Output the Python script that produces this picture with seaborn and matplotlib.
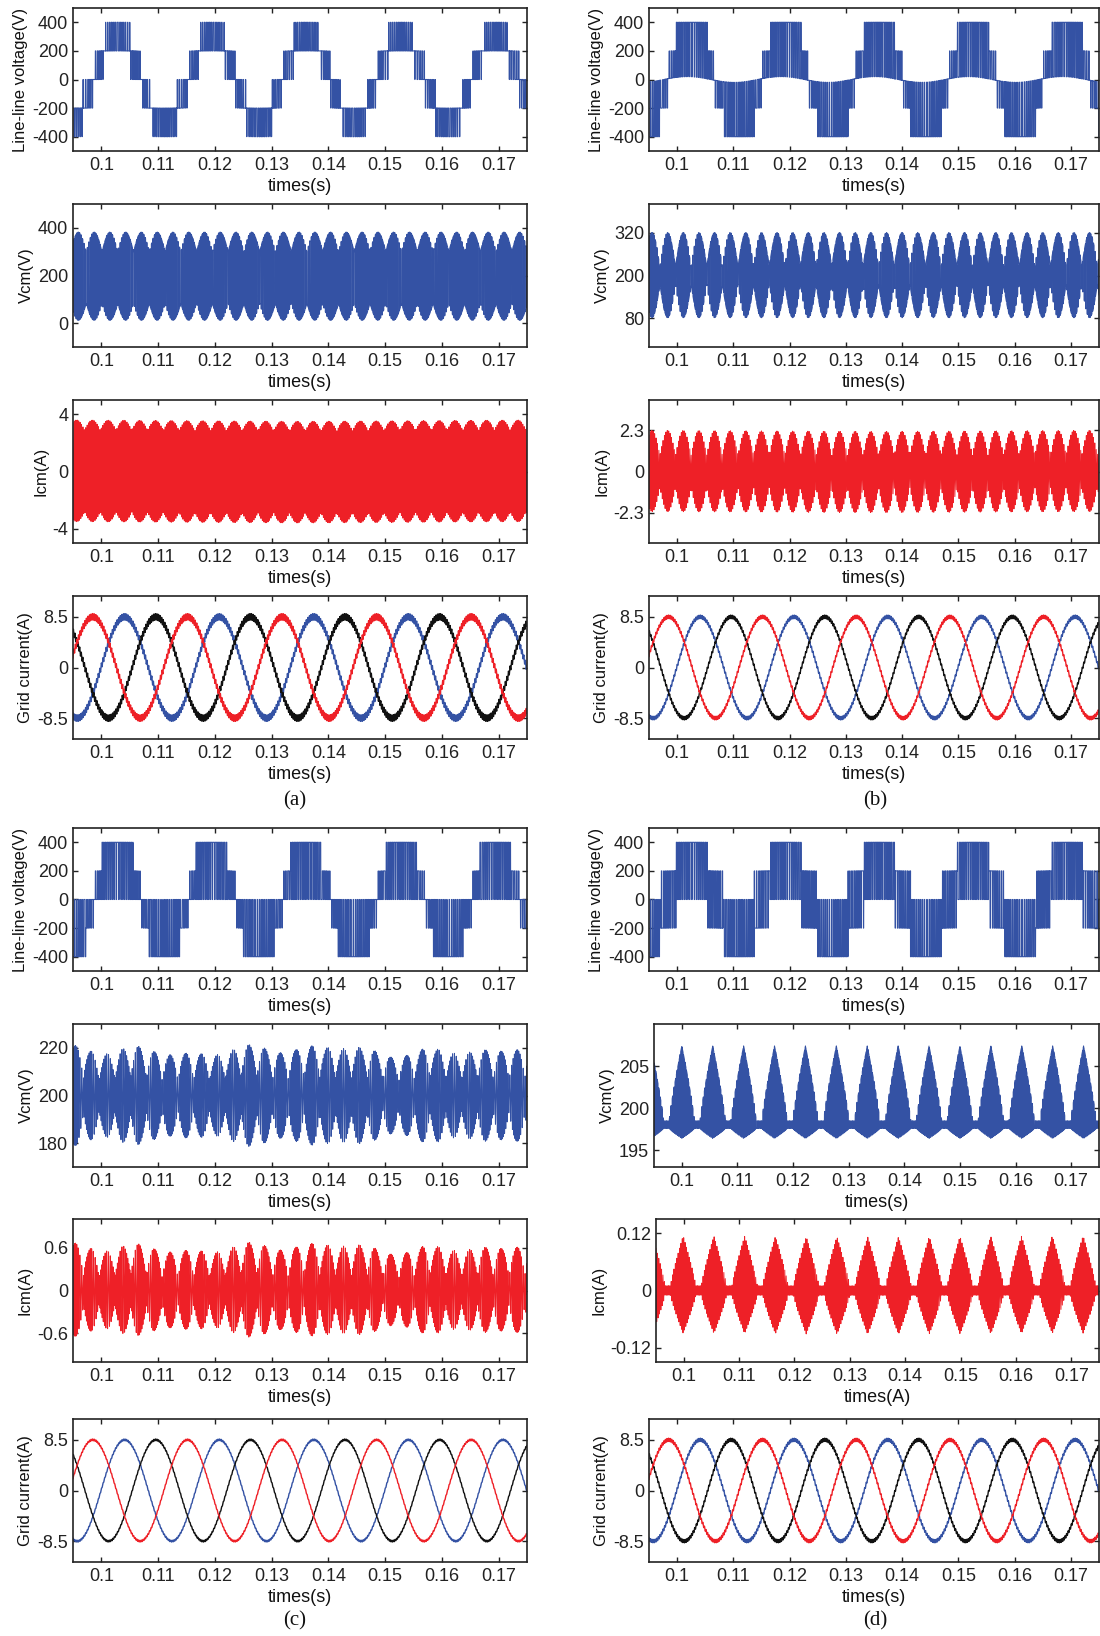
import numpy as np
import matplotlib
matplotlib.use('Agg')
import matplotlib.pyplot as plt
import seaborn as sns

# time axis
f_grid = 60.0
t_start, t_end = 0.095, 0.175
n_samples = 24000
time_ticks = [0.1, 0.11, 0.12, 0.13, 0.14, 0.15, 0.16, 0.17]
time_tick_labels = ['0.1', '0.11', '0.12', '0.13', '0.14', '0.15', '0.16', '0.17']
panel_names = ['(a)', '(b)', '(c)', '(d)']

# line-line voltage (modulation)
ll_mode = ['adjacent', 'unipolar', 'unipolar', 'bipolar']
ll_ref_amp = [300, 300, 300, 300]
ll_peak_time = [0.1028, 0.1026, 0.1028, 0.1026]
ll_floor_ripple = [0, 20, 0, 0]
ll_carrier = [3000, 3000, 3000, 3000]
ll_ylim = (-500, 500)
ll_yticks = [-400, -200, 0, 200, 400]

# common-mode voltage: (waist, lobe peak) of upper and lower envelope
vcm_upper = [(300, 382), (225, 320), (207, 219), (198.5, 207.4)]
vcm_lower = [(82, 12), (175, 82), (193, 181), (197.6, 196.4)]
vcm_lobe_freq = [360, 360, 360, 180]
vcm_lobe_peak = [0.1015, 0.1011, 0.1010, 0.1000]
vcm_jitter = [0.0, 0.0, 0.12, 0.0]
vcm_ylim = [(-100, 500), (0, 400), (170, 230), (193, 210)]
vcm_yticks = [[0, 200, 400], [80, 200, 320], [180, 200, 220], [195, 200, 205]]

# common-mode current
icm_upper = [(2.9, 3.6), (0.9, 2.3), (0.2, 0.6), (0.01, 0.115)]
icm_lower = [(-2.9, -3.6), (-0.9, -2.3), (-0.2, -0.58), (-0.01, -0.092)]
icm_lobe_freq = [360, 360, 360, 180]
icm_lobe_peak = [0.1012, 0.1011, 0.1010, 0.0999]
icm_jitter = [0.0, 0.0, 0.12, 0.0]
icm_ylim = [(-5, 5), (-4, 4), (-1, 1), (-0.15, 0.15)]
icm_yticks = [[-4, 0, 4], [-2.3, 0, 2.3], [-0.6, 0, 0.6], [-0.12, 0, 0.12]]
icm_xlabel = ['times(s)', 'times(s)', 'times(s)', 'times(A)']

# grid currents (blue, black, red phases)
grid_amp = 8.5
grid_peak_time = [0.1041, 0.1096, 0.0985]
grid_colors = ['#3452a4', '#111111', '#ee2027']
grid_ripple = [0.55, 0.3, 0.15, 0.28]
grid_ylim = (-12, 12)
grid_yticks = [-8.5, 0, 8.5]

BLUE = '#3452a4'
RED = '#ee2027'

t = np.linspace(t_start, t_end, n_samples)


def tri(t, freq, t0=0.0):
    # triangle in [0, 1], equal to 1 at t0
    x = ((t - t0) * freq + 0.5) % 1.0
    return 1 - 2 * np.abs(x - 0.5)


def lobe(freq, tp, shape):
    if shape == 'peak':
        return np.clip((tri(t, freq, tp) - 0.18) / 0.82, 0, 1) ** 0.85
    return np.abs(np.cos(np.pi * freq * (t - tp)))


def line_voltage(i):
    A = ll_ref_amp[i]
    ref = A * np.cos(2 * np.pi * f_grid * (t - ll_peak_time[i]))
    # slightly wandering carrier so that the switching bars are not evenly spaced
    tc = t + 0.00012 * np.sin(2 * np.pi * 170 * t) + 0.00005 * np.sin(2 * np.pi * 530 * t)
    c = tri(tc, ll_carrier[i], 0.00003)
    if ll_mode[i] == 'adjacent':
        lo = 200 * np.floor(ref / 200)
        d = (ref - lo) / 200
        return lo + 200 * (d > c)
    mag = np.abs(ref)
    sgn = np.sign(ref)
    inner = mag < 0.5 * A
    base = ll_floor_ripple[i] * np.cos(2 * np.pi * f_grid * (t - ll_peak_time[i] + 0.0008))
    if ll_mode[i] == 'unipolar':
        L = np.where(inner, 200, 400)
        return np.where(mag / L > c, sgn * L, base)
    outer = np.where(mag / 400 > c, sgn * 400, 0)
    near = np.where((ref + 200) / 400 > c, 200, -200)
    return np.where(inner, near, outer)


def envelope(upper, lower, freq, tp, jitter, centre):
    shape = 'peak' if freq == 180 else 'round'
    m = lobe(freq, tp, shape)
    up = upper[0] + (upper[1] - upper[0]) * m
    lo = lower[0] + (lower[1] - lower[0]) * m
    if jitter:
        j = 1 + jitter * np.sin(2 * np.pi * 41 * t) * np.cos(2 * np.pi * 17 * t) \
            + 0.5 * jitter * np.sin(2 * np.pi * 97 * t)
        up = centre + (up - centre) * j
        lo = centre + (lo - centre) * j
    return up, lo


def common_voltage(i):
    up, lo = envelope(vcm_upper[i], vcm_lower[i], vcm_lobe_freq[i], vcm_lobe_peak[i],
                      vcm_jitter[i], 200)
    if vcm_jitter[i]:
        w = 0.5 + 0.5 * np.sin(2 * np.pi * 4200 * t + 3 * np.sin(2 * np.pi * 410 * t))
        return lo + (up - lo) * w
    c = tri(t, 3800)
    duty = 0.5 + 0.25 * np.cos(2 * np.pi * 3 * f_grid * t)
    return np.where(duty > c, up, lo)


def common_current(i):
    up, lo = envelope(icm_upper[i], icm_lower[i], icm_lobe_freq[i], icm_lobe_peak[i],
                      icm_jitter[i], 0)
    if icm_jitter[i]:
        w = 0.5 + 0.5 * np.sin(2 * np.pi * 4200 * t + 3 * np.sin(2 * np.pi * 410 * t))
    else:
        w = tri(t, 4000)
    return lo + (up - lo) * w


def grid_current(i, k):
    base = grid_amp * np.cos(2 * np.pi * f_grid * (t - grid_peak_time[k]))
    return base + grid_ripple[i] * (2 * tri(t, 3600, k * 0.00007) - 1)


sns.set_theme(style='ticks', rc={
    'xtick.direction': 'in', 'ytick.direction': 'in',
    'xtick.top': True, 'ytick.right': True,
    'xtick.major.size': 3.5, 'ytick.major.size': 3.5,
    'xtick.major.width': 1.0, 'ytick.major.width': 1.0,
    'xtick.major.pad': 4.5, 'ytick.major.pad': 3.5,
    'axes.linewidth': 1.2, 'axes.edgecolor': '#222222',
    'xtick.color': '#222222', 'ytick.color': '#222222',
    'text.color': '#111111', 'axes.labelcolor': '#111111',
    'axes.unicode_minus': False,
    'font.size': 13, 'axes.labelsize': 13,
    'xtick.labelsize': 13, 'ytick.labelsize': 13,
})
plt.rcParams['font.family'] = ['Liberation Sans', 'DejaVu Sans']

W, H = 1100, 1636
fig = plt.figure(figsize=(W / 100, H / 100), dpi=100)

col_x = [(73, 527), (649, 1099)]
group_rows = [[(8, 151), (204, 347), (400, 543), (596, 739)],
              [(828, 971), (1024, 1167), (1219, 1362), (1419, 1562)]]
label_y = [801, 1621]
label_x = [295, 875]


def make_ax(x0, x1, y0, y1):
    return fig.add_axes([x0 / W, 1 - y1 / H, (x1 - x0) / W, (y1 - y0) / H])


def style_ax(ax, ylim, yticks, ylabel, xlabel='times(s)'):
    ax.set_xlim(t_start, t_end)
    ax.set_ylim(*ylim)
    ax.set_xticks(time_ticks)
    ax.set_xticklabels(time_tick_labels)
    ax.set_yticks(yticks)
    ax.set_yticklabels(['%g' % v for v in yticks])
    ax.set_xlabel(xlabel, labelpad=3, fontsize=13)
    ax.set_ylabel(ylabel, labelpad=3, fontsize=12)
    ax.tick_params(which='both', top=True, right=True, direction='in')


def draw(ax, y, color, lw=0.7):
    sns.lineplot(x=t, y=y, ax=ax, color=color, linewidth=lw,
                 estimator=None, sort=False, errorbar=None)


for i in range(4):
    g, c = divmod(i, 2)
    x0, x1 = col_x[c]
    rows = group_rows[g]
    left = [x0, x0, x0, x0]
    if i == 3:
        left = [x0, x0 + 5, x0 + 7, x0]

    ax = make_ax(left[0], x1, *rows[0])
    draw(ax, line_voltage(i), BLUE, lw=0.8)
    style_ax(ax, ll_ylim, ll_yticks, 'Line-line voltage(V)')

    ax = make_ax(left[1], x1, *rows[1])
    draw(ax, common_voltage(i), BLUE)
    style_ax(ax, vcm_ylim[i], vcm_yticks[i], 'Vcm(V)')

    ax = make_ax(left[2], x1, *rows[2])
    draw(ax, common_current(i), RED)
    style_ax(ax, icm_ylim[i], icm_yticks[i], 'Icm(A)', icm_xlabel[i])

    ax = make_ax(left[3], x1, *rows[3])
    for k in range(3):
        draw(ax, grid_current(i, k), grid_colors[k], lw=1.0)
    style_ax(ax, grid_ylim, grid_yticks, 'Grid current(A)')

    fig.text(label_x[c] / W, 1 - label_y[g] / H, panel_names[i], ha='center', va='center',
             family=['Liberation Serif', 'DejaVu Serif'], fontsize=15)

fig.savefig('out.png', dpi=100)
plt.close(fig)
